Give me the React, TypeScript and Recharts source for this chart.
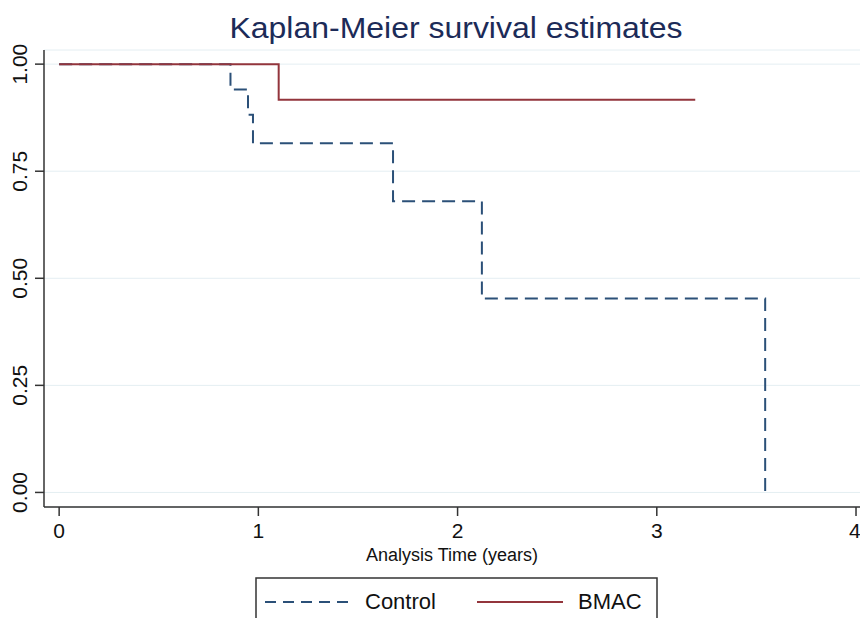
import { CartesianGrid, Line, LineChart, XAxis, YAxis } from 'recharts'

// Kaplan-Meier step points (time in years, survival probability)
const controlTimes = [0, 0.86, 0.948, 0.973, 1.676, 2.122, 3.544]
const controlSurv = [1, 0.941, 0.882, 0.815, 0.68, 0.453, 0]
const bmacTimes = [0, 1.102, 3.193]
const bmacSurv = [1, 0.917, 0.917]

const xTicks = [0, 1, 2, 3, 4]
const yTicks = [0, 0.25, 0.5, 0.75, 1]

const controlData = controlTimes.map((t, i) => ({ t, s: controlSurv[i] }))
const bmacData = bmacTimes.map((t, i) => ({ t, s: bmacSurv[i] }))

const FONT = '"Liberation Sans", Arial, Helvetica, sans-serif'
const NAVY = '#2b5078'
const MAROON = '#93353c'
const AXIS = '#333'

function YTick({ x, y, payload }: any) {
  return (
    <text x={x} y={y} transform={`rotate(-90, ${x}, ${y})`} textAnchor="middle" fontSize={21} fill="#111" fontFamily={FONT}>
      {Number(payload.value).toFixed(2)}
    </text>
  )
}

export default function App() {
  return (
    <div style={{ position: 'absolute', left: 0, top: 0, width: 860, height: 618, background: '#fff', overflow: 'hidden' }}>
      <LineChart width={860} height={618} margin={{ top: 50, right: 0, left: 0, bottom: 0 }}>
        <CartesianGrid vertical={false} stroke="#e4eef2" />
        <XAxis
          type="number"
          dataKey="t"
          domain={[-0.076, 4.02]}
          allowDataOverflow
          ticks={xTicks}
          height={111}
          tickSize={9}
          tickMargin={7}
          stroke={AXIS}
          strokeWidth={1.5}
          tick={{ fontSize: 21, fill: '#111', fontFamily: FONT }}
          label={{ value: 'Analysis Time (years)', position: 'insideBottom', offset: 57, fontSize: 18, fill: '#111', fontFamily: FONT }}
        />
        <YAxis
          type="number"
          domain={[-0.034, 1.033]}
          allowDataOverflow
          ticks={yTicks}
          width={44}
          tickSize={9}
          tickMargin={8}
          stroke={AXIS}
          strokeWidth={1.5}
          tick={<YTick />}
        />
        <Line
          data={controlData}
          dataKey="s"
          type="stepAfter"
          stroke={NAVY}
          strokeWidth={2}
          strokeDasharray="13 7"
          dot={false}
          activeDot={false}
          isAnimationActive={false}
        />
        <Line
          data={bmacData}
          dataKey="s"
          type="stepAfter"
          stroke={MAROON}
          strokeWidth={2}
          dot={false}
          activeDot={false}
          isAnimationActive={false}
        />
      </LineChart>
      <svg width={860} height={618} style={{ position: 'absolute', left: 0, top: 0, pointerEvents: 'none' }}>
        <text x={456} y={38} textAnchor="middle" fontSize={29} textLength={453} lengthAdjust="spacingAndGlyphs" fill="#1c2b58" fontFamily={FONT}>
          Kaplan-Meier survival estimates
        </text>
        <rect x={256} y={578} width={401} height={60} fill="none" stroke={AXIS} strokeWidth={1.5} />
        <line x1={265} x2={352} y1={602} y2={602} stroke={NAVY} strokeWidth={2} strokeDasharray="11 7" />
        <text x={365} y={609} fontSize={22} fill="#111" fontFamily={FONT}>Control</text>
        <line x1={477} x2={563} y1={602} y2={602} stroke={MAROON} strokeWidth={2} />
        <text x={578} y={609} fontSize={22} fill="#111" fontFamily={FONT}>BMAC</text>
      </svg>
    </div>
  )
}
